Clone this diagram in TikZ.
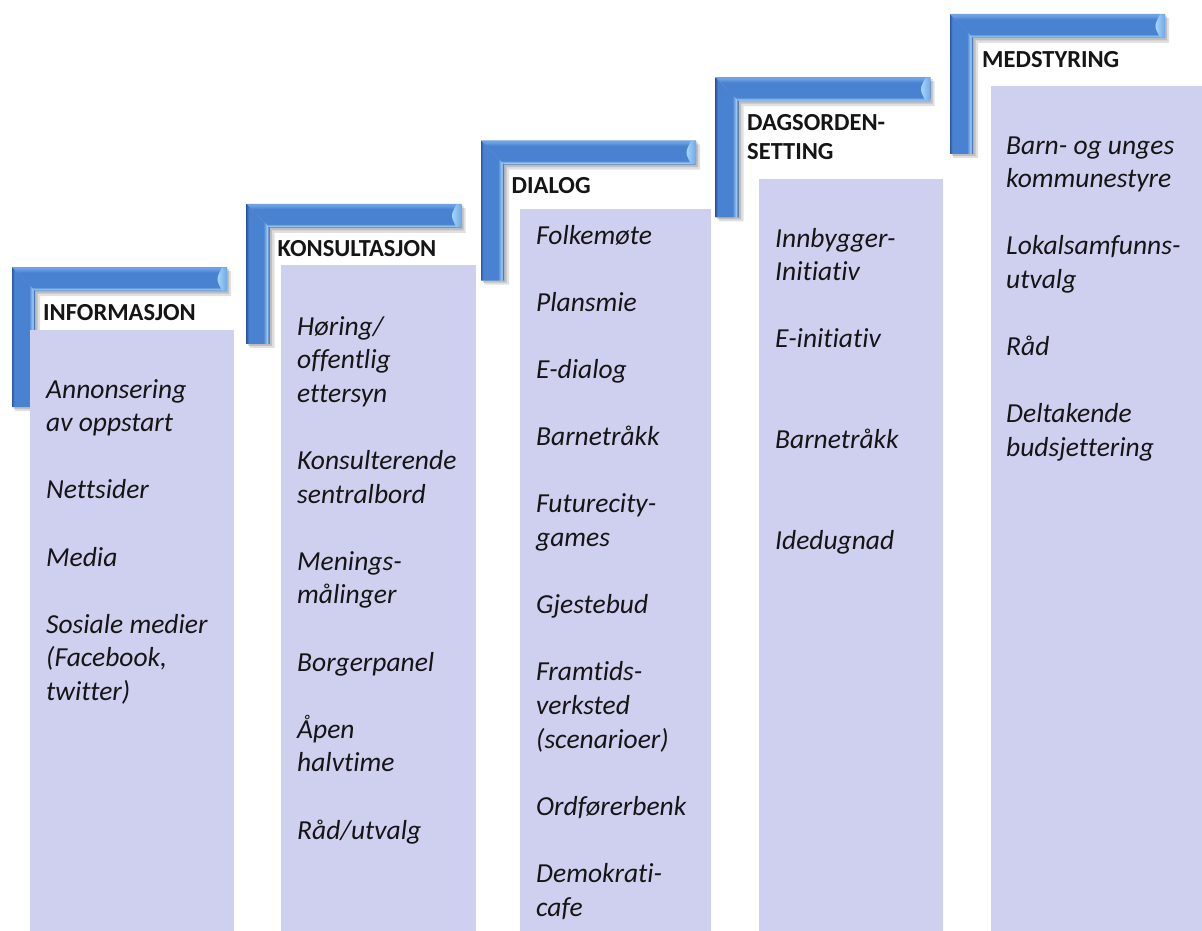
\documentclass[tikz,border=0pt]{standalone}
\usepackage{fontspec}
\setmainfont{Carlito}[Ligatures={NoCommon}]
\definecolor{lav}{HTML}{CFCFEF}
\definecolor{bdk}{HTML}{2C5AA0}
\definecolor{bmd}{HTML}{4A82D2}
\definecolor{blt}{HTML}{6FA2E4}
\definecolor{bhl}{HTML}{9CCBF5}
\definecolor{capA}{HTML}{AEDCFC}
\definecolor{capB}{HTML}{6FA8E8}
\definecolor{txt}{HTML}{151515}
\pgfdeclareverticalshading{hbarshade}{100bp}{color(0bp)=(bdk); color(25bp)=(bdk); color(28bp)=(bhl); color(33bp)=(bmd); color(64bp)=(bmd); color(72bp)=(blt); color(75bp)=(blt); color(100bp)=(blt)}
\pgfdeclarehorizontalshading{vbarshade}{100bp}{color(0bp)=(bdk); color(25bp)=(bdk); color(30bp)=(bmd); color(62bp)=(bmd); color(70bp)=(bhl); color(74bp)=(bdk); color(100bp)=(bdk)}
\newcommand{\stairbracket}[2]{%
  \begin{scope}[shift={(#1,#2)}]
    \fill[black,opacity=0.12] (3,4) -- (219,4) -- (219,29) -- (28,29) -- (28,144) -- (3,144) -- cycle;
    \fill[black,opacity=0.15] (1.5,2) -- (217,2) -- (217,26.5) -- (25.5,26.5) -- (25.5,142) -- (1.5,142) -- cycle;
    \shade[shading=hbarshade] (0,0) -- (215,0) -- (215,24) -- (23,24) -- cycle;
    \shade[shading=vbarshade] (0,0) -- (23,24) -- (23,140) -- (0,140) -- cycle;
    \shade[left color=capA, right color=capB] (215,0.5) -- (210,0.5) .. controls (204,12) .. (210,23.5) -- (215,23.5) -- cycle;
  \end{scope}}
\newcommand{\bodycol}[4]{%
  \foreach \t/\k [count=\n] in {#4}
    \node[bodytext] (#1-\n) at (#2,#3+\k*33.6) {\t};}
\tikzset{
  panel/.style={fill=lav, draw=none, anchor=north west, inner sep=0pt},
  headtext/.style={anchor=base west, inner sep=0pt, text=txt, font=\fontsize{24.5}{28.5}\selectfont\bfseries},
  bodytext/.style={anchor=base west, inner sep=0pt, text=txt, font=\fontsize{27.5}{33.6}\selectfont\itshape}
}
\begin{document}
\begin{tikzpicture}[x=1pt,y=-1pt]
\useasboundingbox[fill=white] (0,0) rectangle (1202,931);
% brackets
\stairbracket{12}{267}
\stairbracket{246.5}{203.75}
\stairbracket{481}{140.5}
\stairbracket{715.5}{77.25}
\stairbracket{950}{14}
% panels
\node[panel, minimum width=204pt, minimum height=601pt] (p1) at (30,330) {};
\node[panel, minimum width=195pt, minimum height=666pt] (p2) at (281,265) {};
\node[panel, minimum width=191pt, minimum height=722pt] (p3) at (520,209) {};
\node[panel, minimum width=184pt, minimum height=752pt] (p4) at (759,179) {};
\node[panel, minimum width=211pt, minimum height=845pt] (p5) at (991,86) {};
% headings
\node[headtext] (h1) at (43,320) {INFORMASJON};
\node[headtext] (h2) at (277.5,256.8) {KONSULTASJON};
\node[headtext] (h3) at (511.5,193.6) {DIALOG};
\node[headtext] (h4a) at (747,131) {DAGSORDEN-};
\node[headtext] (h4b) at (747,160) {SETTING};
\node[headtext] (h5) at (982,67.5) {MEDSTYRING};
% body texts
\bodycol{c1}{46}{398}{Annonsering/0, av oppstart/1, Nettsider/3, Media/5, Sosiale medier/7, {(Facebook,}/8, {twitter)}/9}
\bodycol{c2}{297}{335}{{Høring/}/0, offentlig/1, ettersyn/2, Konsulterende/4, sentralbord/5, Menings-/7, målinger/8, Borgerpanel/10, Åpen/12, halvtime/13, {Råd/utvalg}/15}
\bodycol{c3}{536}{244}{Folkemøte/0, Plansmie/2, E-dialog/4, Barnetråkk/6, Futurecity-/8, games/9, Gjestebud/11, Framtids-/13, verksted/14, {(scenarioer)}/15, Ordførerbenk/17, Demokrati-/19, cafe/20}
\bodycol{c4}{775}{247}{Innbygger-/0, Initiativ/1, E-initiativ/3, Barnetråkk/6, Idedugnad/9}
\bodycol{c5}{1006}{154}{Barn- og unges/0, kommunestyre/1, Lokalsamfunns-/3, utvalg/4, Råd/6, Deltakende/8, budsjettering/9}
\end{tikzpicture}
\end{document}
